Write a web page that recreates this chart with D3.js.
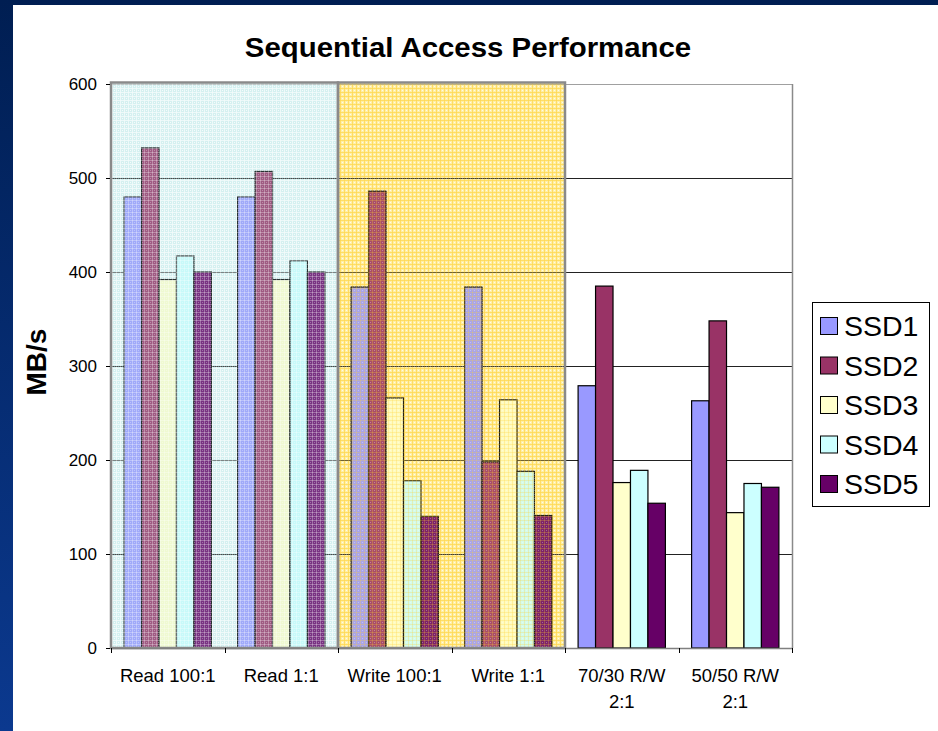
<!DOCTYPE html>
<html>
<head>
<meta charset="utf-8">
<script src="https://cdn.jsdelivr.net/npm/d3@7"></script>
<style>
  html, body { margin: 0; padding: 0; background: #fff; }
  svg { display: block; font-family: "Liberation Sans", Arial, Helvetica, sans-serif; }
</style>
</head>
<body>
<svg id="chart" width="938" height="731"></svg>
<script>
// Benchmark results, MB/s
const categories = ["Read 100:1", "Read 1:1", "Write 100:1", "Write 1:1", "70/30 R/W 2:1", "50/50 R/W 2:1"];
const categoryLines = [["Read 100:1"], ["Read 1:1"], ["Write 100:1"], ["Write 1:1"], ["70/30 R/W", "2:1"], ["50/50 R/W", "2:1"]];
const seriesNames = ["SSD1", "SSD2", "SSD3", "SSD4", "SSD5"];
const ssd1 = [480, 480, 384, 384, 279, 263];
const ssd2 = [532, 507, 486, 198, 385, 348];
const ssd3 = [392, 392, 266, 264, 176, 144];
const ssd4 = [417, 412, 178, 188, 189, 175];
const ssd5 = [400, 400, 140, 141, 154, 171];
const seriesValues = [ssd1, ssd2, ssd3, ssd4, ssd5];
const seriesColors = ["#9999FF", "#993366", "#FFFFCC", "#CCFFFF", "#660066"];
const yTicks = [0, 100, 200, 300, 400, 500, 600];
// highlighted workload groups
const readGroup = ["Read 100:1", "Read 1:1"];
const writeGroup = ["Write 100:1", "Write 1:1"];

const svg = d3.select("#chart");
const W = 938, H = 731;

// slide frame
const defs = svg.append("defs");
const grad = defs.append("linearGradient").attr("id", "frameGrad")
  .attr("x1", 0).attr("y1", 0).attr("x2", 0).attr("y2", 1);
grad.append("stop").attr("offset", "0%").attr("stop-color", "#001E52");
grad.append("stop").attr("offset", "100%").attr("stop-color", "#0B398F");
svg.append("rect").attr("x", 0).attr("y", 0).attr("width", W).attr("height", H).attr("fill", "url(#frameGrad)");
svg.append("rect").attr("x", 13).attr("y", 5).attr("width", W - 13).attr("height", H - 5).attr("fill", "#fff");

// gingham fills for the highlighted groups
function gingham(id, base, baseOp, line, lineOp, light, lightOp) {
  const p = defs.append("pattern").attr("id", id).attr("patternUnits", "userSpaceOnUse")
    .attr("width", 4).attr("height", 4);
  p.append("rect").attr("width", 4).attr("height", 4).attr("fill", base).attr("fill-opacity", baseOp);
  p.append("rect").attr("x", 0).attr("y", 0).attr("width", 4).attr("height", 1).attr("fill", line).attr("fill-opacity", lineOp);
  p.append("rect").attr("x", 0).attr("y", 0).attr("width", 1).attr("height", 4).attr("fill", line).attr("fill-opacity", lineOp);
  p.append("rect").attr("x", 2).attr("y", 2).attr("width", 1).attr("height", 1).attr("fill", light).attr("fill-opacity", lightOp);
}
// panel backgrounds (behind bars) and light veils (over bars)
gingham("readBack", "#DDF3F3", 1, "#F3FBFB", 1, "#FFFFFF", 1);
gingham("readVeil", "#B5E2E2", 0.22, "#FFFFFF", 0.3, "#FFFFFF", 0.3);
gingham("writeBack", "#FFF1AE", 1, "#FFE276", 1, "#FFFFFF", 0.8);
gingham("writeVeil", "#FFE070", 0.15, "#FFD030", 0.25, "#FFFFFF", 0.3);

const x0 = d3.scaleBand().domain(categories).range([111, 792]).padding(0);
const bw = x0.bandwidth() / 6.5;          // gap width 150%
const x1 = d3.scaleBand().domain(seriesNames)
  .range([0.75 * bw, x0.bandwidth() - 0.75 * bw]).padding(0);
const y = d3.scaleLinear().domain([0, 600]).range([648, 84]);

const plot = svg.append("g");

function span(group) {
  const xa = x0(group[0]);
  const xb = x0(group[group.length - 1]) + x0.bandwidth();
  return [xa, xb];
}
function panelRect(group, fillId) {
  const [xa, xb] = span(group);
  plot.append("rect").attr("x", xa).attr("y", y(600) - 1).attr("width", xb - xa).attr("height", y(0) - y(600) + 1)
    .attr("fill", `url(#${fillId})`);
}
panelRect(readGroup, "readBack");
panelRect(writeGroup, "writeBack");

// gridlines
plot.append("g").selectAll("line").data(yTicks.filter(d => d > 0)).join("line")
  .attr("x1", 111).attr("x2", 792)
  .attr("y1", d => Math.round(y(d)) + 0.5).attr("y2", d => Math.round(y(d)) + 0.5)
  .attr("stroke", d => d === 600 ? "#A0A0A0" : "#222").attr("stroke-width", 1);

// bars
const rows = [];
seriesNames.forEach((s, si) => {
  categories.forEach((c, ci) => rows.push({ s, c, v: seriesValues[si][ci], color: seriesColors[si] }));
});
plot.append("g").selectAll("rect").data(rows).join("rect")
  .attr("x", d => x0(d.c) + x1(d.s))
  .attr("y", d => y(d.v))
  .attr("width", x1.bandwidth())
  .attr("height", d => y(0) - y(d.v))
  .attr("fill", d => d.color)
  .attr("stroke", "#000").attr("stroke-width", 1.2);

// veils and panel outlines
panelRect(readGroup, "readVeil");
panelRect(writeGroup, "writeVeil");
[readGroup, writeGroup].forEach(g => {
  const [xa, xb] = span(g);
  plot.append("rect").attr("x", xa).attr("y", y(600) - 1.5).attr("width", xb - xa).attr("height", y(0) - y(600) + 1.5)
    .attr("fill", "none").attr("stroke", "#8A8A8A").attr("stroke-width", 2.5);
});

// plot frame (right side)
plot.append("line").attr("x1", 792.5).attr("x2", 792.5).attr("y1", y(600)).attr("y2", y(0))
  .attr("stroke", "#8A8A8A").attr("stroke-width", 1.5);

// y axis
const yAxis = svg.append("g").attr("transform", "translate(111,0)")
  .call(d3.axisLeft(y).tickValues(yTicks).tickSize(5).tickPadding(9).tickFormat(d3.format("d")));
yAxis.select(".domain").remove();
yAxis.selectAll(".tick line").attr("stroke", "#000");
yAxis.selectAll(".tick text").attr("font-size", 17).attr("fill", "#000")
  .attr("font-family", "'Liberation Sans', Arial, sans-serif");
svg.append("line").attr("x1", 111).attr("x2", 111).attr("y1", y(600)).attr("y2", y(0) + 1)
  .attr("stroke", "#8A8A8A").attr("stroke-width", 2);

// x axis
svg.append("line").attr("x1", 111).attr("x2", 792).attr("y1", y(0) + 0.5).attr("y2", y(0) + 0.5)
  .attr("stroke", "#808080").attr("stroke-width", 1.5);
const bounds = categories.map(c => x0(c)).concat([x0(categories[categories.length - 1]) + x0.bandwidth()]);
svg.append("g").selectAll("line").data(bounds).join("line")
  .attr("x1", d => Math.round(d) + 0.5).attr("x2", d => Math.round(d) + 0.5)
  .attr("y1", y(0)).attr("y2", y(0) + 5).attr("stroke", "#000");
const xl = svg.append("g").selectAll("text").data(categories).join("text")
  .attr("x", d => x0(d) + x0.bandwidth() / 2)
  .attr("y", 682)
  .attr("text-anchor", "middle").attr("font-size", 18.5).attr("fill", "#000");
xl.each(function (d, i) {
  const t = d3.select(this);
  categoryLines[i].forEach((ln, k) => {
    t.append("tspan").attr("x", x0(d) + x0.bandwidth() / 2).attr("dy", k === 0 ? 0 : 26).text(ln);
  });
});

// title
svg.append("text").attr("x", 468).attr("y", 57).attr("text-anchor", "middle")
  .attr("font-size", 28).attr("font-weight", "bold").attr("fill", "#000")
  .attr("transform", "translate(468,0) scale(1.05,1) translate(-468,0)")
  .text("Sequential Access Performance");

// y axis title
svg.append("text").attr("transform", "translate(46,362) rotate(-90)")
  .attr("text-anchor", "middle").attr("font-size", 28).attr("font-weight", "bold").attr("fill", "#000")
  .text("MB/s");

// legend
const lg = svg.append("g");
lg.append("rect").attr("x", 812.5).attr("y", 302.5).attr("width", 117).attr("height", 204)
  .attr("fill", "#fff").attr("stroke", "#000").attr("stroke-width", 1);
const items = lg.selectAll("g.item").data(seriesNames).join("g").attr("class", "item")
  .attr("transform", (d, i) => `translate(0,${326 + i * 39.5})`);
items.append("rect").attr("x", 820.5).attr("y", -8.5).attr("width", 17).attr("height", 17)
  .attr("fill", (d, i) => seriesColors[i]).attr("stroke", "#000").attr("stroke-width", 1);
items.append("text").attr("x", 844).attr("y", 0).attr("dy", "0.36em")
  .attr("font-size", 28.5).attr("fill", "#000").text(d => d);
</script>
</body>
</html>
